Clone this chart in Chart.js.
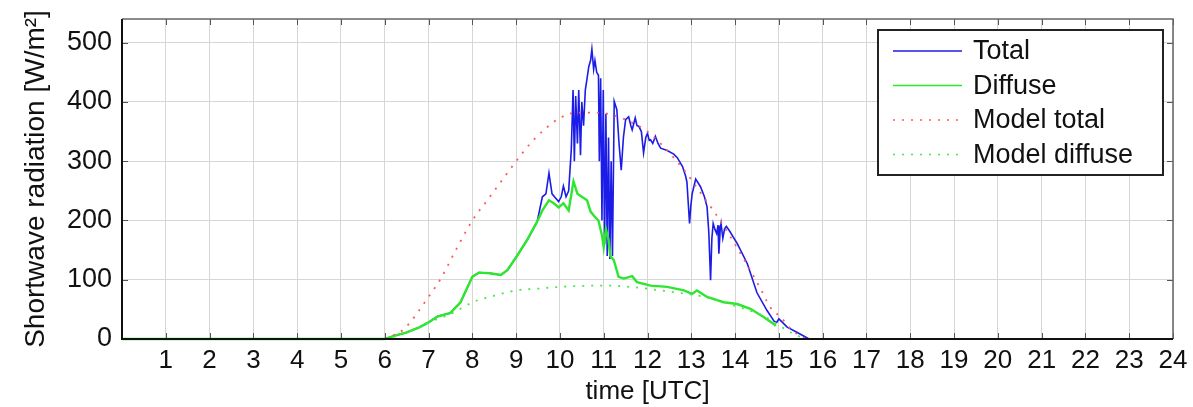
<!DOCTYPE html>
<html>
<head>
<meta charset="utf-8">
<script src="https://cdn.jsdelivr.net/npm/chart.js@4/dist/chart.umd.min.js"></script>
<style>
  html, body { margin: 0; padding: 0; background: #fff; }
  canvas { display: block; }
</style>
</head>
<body>
<canvas id="radChart" width="1193" height="407"></canvas>
<script>
// tick labels
const xTicks = [1, 2, 3, 4, 5, 6, 7, 8, 9, 10, 11, 12, 13, 14, 15, 16, 17, 18, 19, 20, 21, 22, 23, 24];
const yTicks = [0, 100, 200, 300, 400, 500];

// measured total (hours UTC, W/m2)
const totalTime = [0, 6.0, 6.2, 6.5, 6.8, 7.0, 7.2, 7.5, 7.73, 8.0, 8.15, 8.4, 8.65, 8.8, 9.0, 9.25, 9.48,
  9.6, 9.68, 9.75, 9.82, 9.9, 9.97, 10.03, 10.08, 10.14, 10.2, 10.26, 10.3, 10.33, 10.36, 10.4, 10.43,
  10.47, 10.5, 10.54, 10.58, 10.62, 10.66, 10.7, 10.73, 10.77, 10.8, 10.84, 10.88, 10.9, 10.93, 10.96,
  10.99, 11.02, 11.05, 11.08, 11.11, 11.14, 11.17, 11.2, 11.24, 11.3, 11.35, 11.4, 11.45, 11.5, 11.57,
  11.62, 11.65, 11.72, 11.76, 11.8, 11.86, 11.91, 11.96, 12.0, 12.04, 12.07, 12.12, 12.18, 12.24, 12.3,
  12.45, 12.6, 12.68, 12.8, 12.87, 12.9, 12.93, 12.96, 12.99, 13.02, 13.1, 13.21, 13.3, 13.36, 13.4,
  13.44, 13.47, 13.5, 13.54, 13.58, 13.61, 13.63, 13.66, 13.68, 13.72, 13.76, 13.8, 13.86, 14.05, 14.28,
  14.5, 14.73, 14.89, 14.95, 15.0, 15.19, 15.42, 15.69];
const totalValue = [0, 0, 5, 11, 20, 28, 38, 44, 62, 105, 112, 111, 108, 116, 138, 167, 198,
  240, 245, 280, 245, 238, 232, 240, 258, 240, 250, 320, 420, 300, 410, 330, 420,
  310, 400, 360, 420, 440, 460, 470, 489, 455, 470, 450, 445, 300, 440, 200,
  420, 160, 380, 140, 340, 135, 300, 140, 401, 387, 330, 285, 340, 370, 375,
  360, 353, 373, 360, 359, 350, 314, 340, 347, 335, 336, 330, 342, 330, 322,
  318, 312, 306, 291, 275, 265, 230, 195, 225, 245, 270, 257, 240, 223, 180,
  99, 170, 195, 185, 178, 192, 144, 185, 195, 170, 186, 190, 184, 161, 127,
  78, 48, 30, 28, 34, 20, 11, 0];

// measured diffuse
const diffuseTime = [0, 6.0, 6.2, 6.5, 6.8, 7.0, 7.2, 7.5, 7.73, 8.0, 8.15, 8.4, 8.65, 8.8, 9.0, 9.25, 9.48,
  9.6, 9.75, 9.86, 9.97, 10.08, 10.2, 10.31, 10.4, 10.5, 10.62, 10.7, 10.8, 10.88, 10.96, 11.0, 11.05,
  11.11, 11.15, 11.23, 11.34, 11.46, 11.55, 11.65, 11.76, 12.07, 12.45, 12.83, 13.02, 13.13, 13.36,
  13.74, 14.05, 14.35, 14.65, 14.89, 14.93];
const diffuseValue = [0, 0, 5, 11, 20, 28, 38, 44, 62, 105, 112, 111, 108, 116, 138, 167, 198,
  217, 234, 229, 222, 229, 217, 266, 245, 240, 234, 215, 206, 200, 175, 155, 185,
  167, 140, 133, 105, 102, 104, 106, 96, 90, 88, 82, 76, 82, 71,
  62, 59, 51, 37, 25, 22];

// model curves
const modelTotalTime = [6.0, 6.44, 7.0, 7.28, 7.58, 8.0, 8.34, 8.7, 9.0, 9.4, 10.0, 10.4, 10.8, 11.1,
  11.5, 12.0, 12.4, 12.87, 13.2, 13.52, 13.7, 14.2, 14.58, 14.8, 15.04, 15.3, 15.6];
const modelTotalValue = [0, 17, 71, 102, 144, 200, 234, 270, 300, 336, 373, 382, 382, 380,
  370, 350, 322, 282, 248, 215, 195, 135, 85, 54, 37, 15, 0];
const modelDiffuseTime = [6.0, 6.5, 7.0, 7.5, 7.8, 8.0, 8.5, 9.0, 9.5, 10.0, 10.76, 11.15, 11.6, 12.5,
  13.3, 14.0, 14.7, 14.96, 15.3, 15.6];
const modelDiffuseValue = [0, 10, 28, 42, 54, 62, 73, 82, 85, 88, 90, 90, 88, 80,
  71, 56, 37, 25, 10, 0];

function toPoints(xs, ys) {
  return xs.map((x, i) => ({ x: x, y: ys[i] }));
}

const fontFamily = "'Liberation Sans', Arial, sans-serif";

// matlab style box + inward ticks
const framePlugin = {
  id: "frame",
  afterDraw(chart) {
    const { ctx, chartArea: a, scales } = chart;
    ctx.save();
    ctx.strokeStyle = "#555";
    ctx.lineWidth = 1;
    ctx.beginPath();
    xTicks.forEach(v => {
      const px = Math.round(scales.x.getPixelForValue(v)) + 0.5;
      ctx.moveTo(px, a.bottom); ctx.lineTo(px, a.bottom - 6);
      ctx.moveTo(px, a.top); ctx.lineTo(px, a.top + 6);
    });
    yTicks.forEach(v => {
      const py = Math.round(scales.y.getPixelForValue(v)) + 0.5;
      ctx.moveTo(a.left, py); ctx.lineTo(a.left + 6, py);
      ctx.moveTo(a.right, py); ctx.lineTo(a.right - 6, py);
    });
    ctx.stroke();
    ctx.strokeStyle = "#666";
    ctx.lineWidth = 1.5;
    ctx.beginPath();
    ctx.moveTo(a.left, a.top); ctx.lineTo(a.right, a.top); ctx.lineTo(a.right, a.bottom);
    ctx.stroke();
    ctx.strokeStyle = "#111";
    ctx.lineWidth = 2;
    ctx.beginPath();
    ctx.moveTo(a.left, a.top); ctx.lineTo(a.left, a.bottom); ctx.lineTo(a.right, a.bottom);
    ctx.stroke();
    ctx.restore();
  }
};

// legend box in the upper right corner
const legendPlugin = {
  id: "boxLegend",
  afterDraw(chart) {
    const ctx = chart.ctx;
    const x0 = 878, y0 = 30, w = 285, h = 145;
    ctx.save();
    ctx.fillStyle = "#fff";
    ctx.fillRect(x0, y0, w, h);
    ctx.strokeStyle = "#222";
    ctx.lineWidth = 2;
    ctx.strokeRect(x0, y0, w, h);
    ctx.font = "27px " + fontFamily;
    ctx.textBaseline = "middle";
    chart.data.datasets.forEach((ds, i) => {
      const cy = y0 + 21 + i * 34.5;
      ctx.strokeStyle = ds.borderColor;
      ctx.lineWidth = 1.5;
      ctx.setLineDash(ds.borderDash);
      ctx.beginPath();
      ctx.moveTo(893, cy);
      ctx.lineTo(962, cy);
      ctx.stroke();
      ctx.setLineDash([]);
      ctx.fillStyle = "#111";
      ctx.fillText(ds.label, 973, cy + 1);
    });
    ctx.restore();
  }
};

new Chart(document.getElementById("radChart"), {
  type: "line",
  data: {
    datasets: [
      {
        label: "Total",
        data: toPoints(totalTime, totalValue),
        borderColor: "#1c1ce8",
        borderWidth: 1.6,
        borderDash: [],
        pointRadius: 0,
        order: 4
      },
      {
        label: "Diffuse",
        data: toPoints(diffuseTime, diffuseValue),
        borderColor: "#2ee62e",
        borderWidth: 2.4,
        borderDash: [],
        pointRadius: 0,
        order: 3
      },
      {
        label: "Model total",
        data: toPoints(modelTotalTime, modelTotalValue),
        borderColor: "#ff5a5a",
        borderWidth: 1.8,
        borderDash: [2, 7],
        pointRadius: 0,
        cubicInterpolationMode: "monotone",
        order: 2
      },
      {
        label: "Model diffuse",
        data: toPoints(modelDiffuseTime, modelDiffuseValue),
        borderColor: "#4fe44f",
        borderWidth: 1.8,
        borderDash: [2, 7],
        pointRadius: 0,
        cubicInterpolationMode: "monotone",
        order: 1
      }
    ]
  },
  options: {
    responsive: false,
    animation: false,
    devicePixelRatio: 1,
    layout: { padding: { left: 0, right: 20, top: 19, bottom: 0 } },
    plugins: {
      legend: { display: false },
      tooltip: { enabled: false }
    },
    datasets: { line: { clip: false, tension: 0 } },
    scales: {
      x: {
        type: "linear",
        min: 0,
        max: 24,
        afterBuildTicks: scale => { scale.ticks = xTicks.map(v => ({ value: v })); },
        afterFit: scale => { scale.height = 68; scale.paddingLeft = 0; scale.paddingRight = 0; },
        grid: { color: "#d6d6d6", lineWidth: 1, drawTicks: false },
        border: { display: false },
        ticks: {
          padding: 6,
          maxRotation: 0,
          autoSkip: false,
          color: "#111",
          font: { family: fontFamily, size: 26 }
        },
        title: {
          display: true,
          text: "time [UTC]",
          color: "#111",
          padding: { top: 0, bottom: 0 },
          font: { family: fontFamily, size: 26 }
        }
      },
      y: {
        min: 0,
        max: 540,
        afterBuildTicks: scale => { scale.ticks = yTicks.map(v => ({ value: v })); },
        afterFit: scale => { scale.width = 122; scale.paddingTop = 0; scale.paddingBottom = 0; },
        grid: { color: "#d6d6d6", lineWidth: 1, drawTicks: false },
        border: { display: false },
        ticks: {
          padding: 10,
          color: "#111",
          font: { family: fontFamily, size: 27 }
        },
        title: {
          display: true,
          text: "Shortwave radiation [W/m²]",
          color: "#111",
          padding: { top: 19, bottom: 0 },
          font: { family: fontFamily, size: 28 }
        }
      }
    }
  },
  plugins: [framePlugin, legendPlugin]
});
</script>
</body>
</html>
